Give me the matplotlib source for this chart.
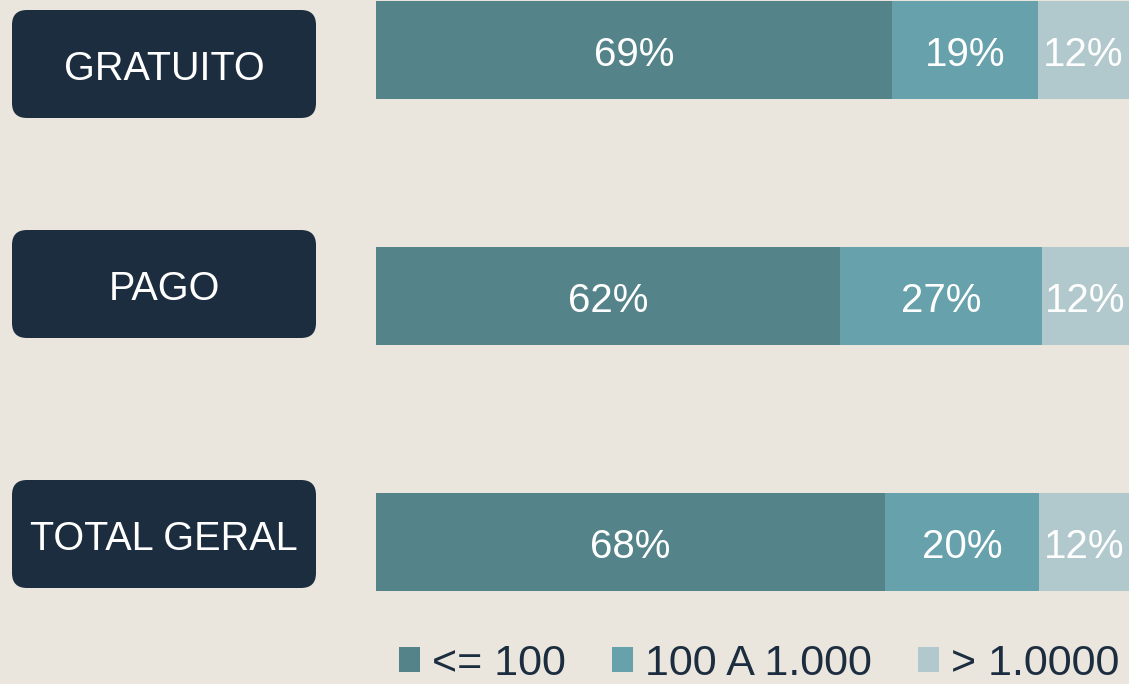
import matplotlib
matplotlib.use("Agg")
import matplotlib.pyplot as plt
from matplotlib.patches import FancyBboxPatch, Patch
from matplotlib import font_manager

# ---- data ----
categories = ["GRATUITO", "PAGO", "TOTAL GERAL"]
series_names = ["<= 100", "100 A 1.000", "> 1.0000"]
le_100 = [68.5, 61.6, 67.6]
mid_100_1000 = [19.4, 26.8, 20.5]
gt_1000 = [12.1, 11.6, 12.0]
label_le_100 = ["69%", "62%", "68%"]
label_mid = ["19%", "27%", "20%"]
label_gt = ["12%", "12%", "12%"]

# ---- style ----
BG = "#EAE6DD"
NAVY = "#1C2D40"
colors = ["#55838A", "#67A1AB", "#B1C8CD"]

names = {f.name for f in font_manager.fontManager.ttflist}
narrow = "Liberation Sans Narrow" if "Liberation Sans Narrow" in names else None

W, H = 1129, 684
fig = plt.figure(figsize=(W / 100, H / 100), dpi=100, facecolor=BG)

ax = fig.add_axes([376 / W, 0, 753 / W, 1])
ax.set_facecolor(BG)
ypos = list(range(len(categories)))
series = [le_100, mid_100_1000, gt_1000]
labels = [label_le_100, label_mid, label_gt]
left = [0.0] * len(categories)
for vals, labs, col in zip(series, labels, colors):
    bars = ax.barh(ypos, vals, left=left, height=0.4, color=col, edgecolor="none")
    for b, lab in zip(bars, labs):
        ax.text(b.get_x() + b.get_width() / 2, b.get_y() + b.get_height() / 2 + 0.022, lab,
                ha="center", va="center", color="white", fontsize=29,
                family=["Liberation Sans", "DejaVu Sans"])
    left = [l + v for l, v in zip(left, vals)]
ax.set_xlim(0, 100)
ax.set_ylim((H - 50) / 246, -50 / 246)
ax.axis("off")

# category label boxes
ov = fig.add_axes([0, 0, 1, 1], zorder=-1)
ov.set_xlim(0, W)
ov.set_ylim(H, 0)
ov.axis("off")
box_tops = [10, 230, 480]
for cat, top in zip(categories, box_tops):
    ov.add_patch(FancyBboxPatch((12, top), 304, 108,
                                boxstyle="round,pad=0,rounding_size=15",
                                facecolor=NAVY, edgecolor="none"))
    if narrow:
        ov.text(164, top + 59, cat, ha="center", va="center", color="white",
                fontsize=32, family=[narrow, "DejaVu Sans"])
    else:
        ov.text(164, top + 59, cat, ha="center", va="center", color="white",
                fontsize=28.5, family=["Liberation Sans", "DejaVu Sans"])

# legend
handles = [Patch(facecolor=c, edgecolor="none") for c in colors]
fig.legend(handles, series_names, loc="center", bbox_to_anchor=(759 / W, 1 - 664 / H),
           ncol=3, frameon=False, handlelength=0.48, handleheight=0.52,
           handletextpad=0.28, columnspacing=1.08, labelcolor=NAVY,
           borderpad=0.1,
           prop={"family": ["Liberation Sans", "DejaVu Sans"], "size": 31})

fig.savefig("out.png", dpi=100, facecolor=BG)
